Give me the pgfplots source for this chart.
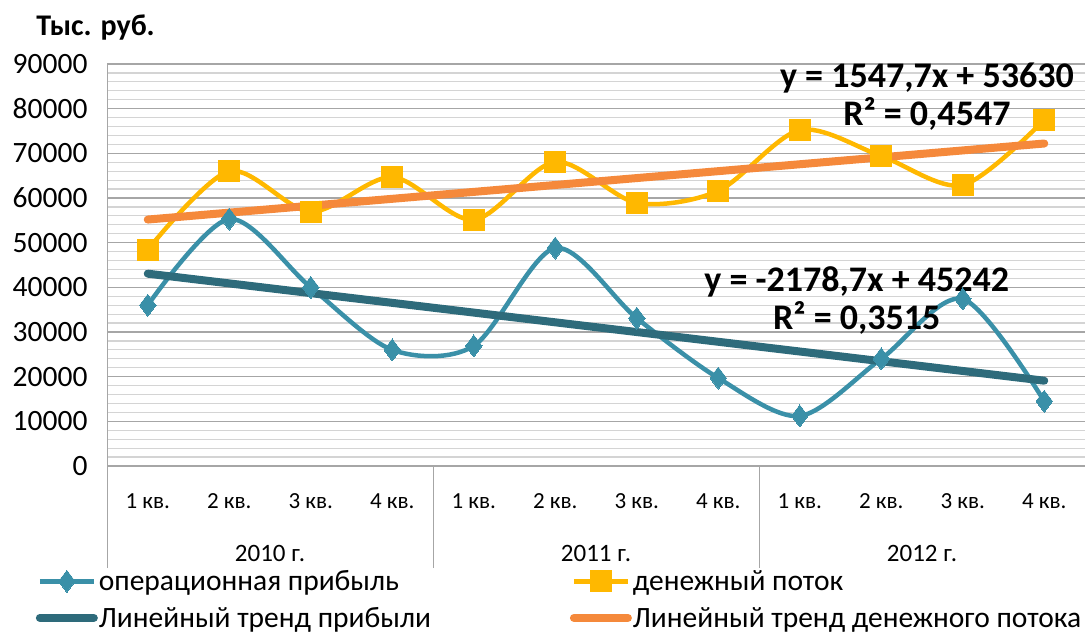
\documentclass[border=0pt]{standalone}
\usepackage{fontspec}
\setmainfont{Carlito}
\usepackage{pgfplots}
\pgfplotsset{compat=1.18}
\definecolor{profit}{HTML}{3A90A8}
\definecolor{ptrend}{HTML}{2E6B7B}
\definecolor{cash}{HTML}{FFB800}
\definecolor{ctrend}{HTML}{F5893B}
\definecolor{majgrid}{HTML}{A6A6A6}
\definecolor{mingrid}{HTML}{D4D4D4}
\begin{document}
\begin{tikzpicture}[x=1pt,y=1pt]
\path[use as bounding box] (0,0) rectangle (1087,-632);
\begin{axis}[
  at={(107pt,-466pt)}, anchor=south west,
  width=978pt, height=402pt, scale only axis,
  xmin=0.5, xmax=12.5, ymin=0, ymax=90000,
  clip=false,
  scaled y ticks=false,
  axis x line*=bottom, axis y line*=left,
  axis line style={majgrid, line width=1pt},
  ytick={0,10000,...,90000},
  yticklabels={0,10000,20000,30000,40000,50000,60000,70000,80000,90000},
  minor y tick num=4,
  ymajorgrids, yminorgrids,
  major grid style={majgrid, line width=1.2pt},
  minor grid style={mingrid, line width=1.2pt},
  major tick length=0pt, minor tick length=0pt,
  xtick={1,...,12},
  xticklabels={1 кв.,2 кв.,3 кв.,4 кв.,1 кв.,2 кв.,3 кв.,4 кв.,1 кв.,2 кв.,3 кв.,4 кв.},
  xticklabel style={font=\fontsize{23}{25}\selectfont, yshift=-24pt},
  yticklabel style={font=\fontsize{29.5}{31}\selectfont, xshift=-16pt},
  extra x ticks={0.5,4.5,8.5},
  extra x tick labels={},
  extra x tick style={tick align=outside, major tick length=102pt, tick style={majgrid, line width=1pt}},
  legend columns=2,
  legend style={at={(rel axis cs:-0.075,-0.252)}, anchor=north west, draw=none, fill=none,
    font=\fontsize{29.5}{31}\selectfont, row sep=13pt, inner sep=2pt,
    nodes={inner sep=1pt},
    /tikz/every even column/.append style={column sep=138pt}},
  legend cell align=left,
  legend image code/.code={\draw[mark repeat=2,mark phase=2,#1] plot coordinates {(0pt,0pt) (27pt,0pt) (54pt,0pt)};},
]
\addplot[profit, line width=4.5pt, smooth, mark=diamond*, mark size=11pt, mark options={solid, line width=0pt}]
 coordinates {(1,36000)(2,55300)(3,40000)(4,26000)(5,26900)(6,48800)(7,33100)(8,19700)(9,11200)(10,24000)(11,37400)(12,14500)};
\addlegendentry{операционная прибыль}
\addplot[cash, line width=4.5pt, smooth, mark=square*, mark size=10.5pt, mark options={solid, line width=0pt}]
 coordinates {(1,48400)(2,66000)(3,56900)(4,64700)(5,55100)(6,68100)(7,58900)(8,61600)(9,75200)(10,69400)(11,62900)(12,77500)};
\addlegendentry{денежный поток}
\addplot[ptrend, line width=8pt, line cap=round, no marks] coordinates {(1,43063)(12,19098)};
\addlegendentry{Линейный тренд прибыли}
\addplot[ctrend, line width=8pt, line cap=round, no marks] coordinates {(1,55178)(12,72202)};
\addlegendentry{Линейный тренд денежного потока}

\node[font=\bfseries\fontsize{36}{38}\selectfont, align=center] at (axis cs:10.56,82600) {y = 1547,7x + 53630\\R² = 0,4547};
\node[font=\bfseries\fontsize{36}{38}\selectfont, align=center] at (axis cs:9.70,37160) {y = -2178,7x + 45242\\R² = 0,3515};
\node[font=\fontsize{25}{27}\selectfont] at (axis cs:2.5,0) [yshift=-87pt] {2010 г.};
\node[font=\fontsize{25}{27}\selectfont] at (axis cs:6.5,0) [yshift=-87pt] {2011 г.};
\node[font=\fontsize{25}{27}\selectfont] at (axis cs:10.5,0) [yshift=-87pt] {2012 г.};
\node[anchor=base west, font=\bfseries\fontsize{30}{32}\selectfont] at (rel axis cs:-0.0757,1.07) {Тыс. руб.};
\end{axis}
\end{tikzpicture}
\end{document}
